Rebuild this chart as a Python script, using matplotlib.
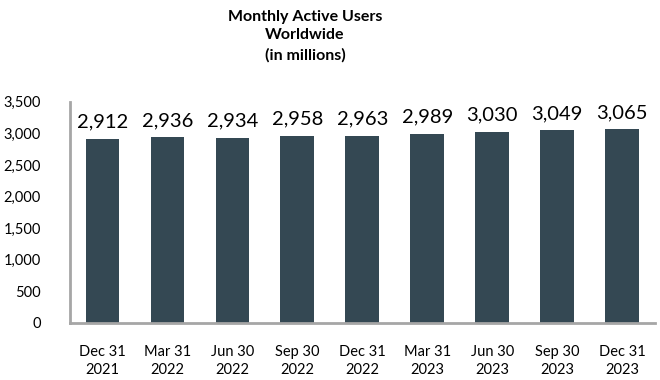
import matplotlib.pyplot as plt

# Datos
fechas = ["Dec 31\n2021", "Mar 31\n2022", "Jun 30\n2022", "Sep 30\n2022", "Dec 31\n2022",
          "Mar 31\n2023", "Jun 30\n2023", "Sep 30\n2023", "Dec 31\n2023"]
usuarios = [2912, 2936, 2934, 2958, 2963, 2989, 3030, 3049, 3065]
ticks_y = [0, 500, 1000, 1500, 2000, 2500, 3000, 3500]

COLOR_BARRA = '#344853'
COLOR_EJE = '#a6a6a6'

plt.rcParams['font.family'] = ['Lato', 'DejaVu Sans']

fig = plt.figure(figsize=(6.6, 3.8), dpi=100)
ax = fig.add_axes([0.106, 0.15, 0.886, 0.582])

x = range(len(usuarios))
barras = ax.bar(x, usuarios, width=0.52, color=COLOR_BARRA)

# etiquetas de valor sobre cada barra
for xi, v in zip(x, usuarios):
    ax.annotate(f"{v:,}", (xi, v), xytext=(0, 6), textcoords='offset points',
                ha='center', va='bottom', fontsize=14.5, color='black')

ax.set_xlim(-0.5, len(usuarios) - 0.5)
ax.set_ylim(0, 3500)
ax.set_yticks(ticks_y)
ax.set_yticklabels([f"{t:,}" for t in ticks_y], fontsize=10.5)
ax.set_xticks(list(x))
ax.set_xticklabels(fechas, fontsize=10.5, linespacing=1.3)
ax.tick_params(axis='y', length=0, pad=21)
ax.tick_params(axis='x', length=0, pad=16)

for lado in ['top', 'right']:
    ax.spines[lado].set_visible(False)
for lado in ['left', 'bottom']:
    ax.spines[lado].set_color(COLOR_EJE)
    ax.spines[lado].set_linewidth(2)

fig.text(0.462, 0.975, "Monthly Active Users\nWorldwide\n(in millions)", ha='center', va='top',
         fontsize=11.5, fontweight='bold', linespacing=1.45)

fig.savefig("out.png", dpi=100)
